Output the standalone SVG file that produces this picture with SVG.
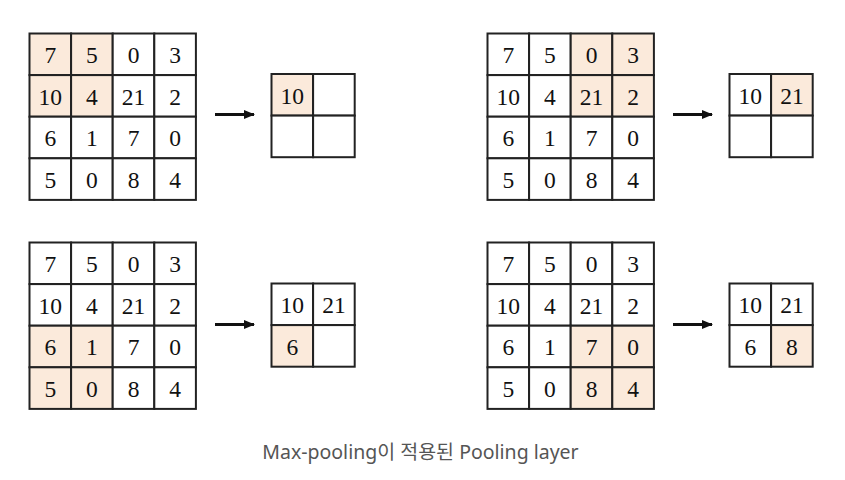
<svg xmlns="http://www.w3.org/2000/svg" width="845" height="480" viewBox="0 0 845 480">
<style>
.c{fill:#fff;stroke:#222;stroke-width:2}
.h{fill:#fbeadb;stroke:#222;stroke-width:2}
.n{font-family:"Liberation Serif",serif;font-size:23.5px;fill:#111;text-anchor:middle}
.cap{font-family:"Noto Sans","Noto Sans CJK KR",sans-serif;font-size:19.5px;fill:#555;text-anchor:middle}
.a{stroke:#111;stroke-width:3;fill:none}
</style>
<defs>
<marker id="ah" markerWidth="12" markerHeight="10" refX="10" refY="5" orient="auto" markerUnits="userSpaceOnUse"><path d="M0,0.5 L11,5 L0,9.5 Z" fill="#111"/></marker>
</defs>
<rect width="845" height="480" fill="#fff"/>

<!-- Top-left input -->
<g id="in1" transform="translate(29.5,33.5)">
<rect class="h" x="0" y="0" width="41.6" height="41.6"/><rect class="h" x="41.6" y="0" width="41.6" height="41.6"/><rect class="c" x="83.2" y="0" width="41.6" height="41.6"/><rect class="c" x="124.8" y="0" width="41.6" height="41.6"/>
<rect class="h" x="0" y="41.6" width="41.6" height="41.6"/><rect class="h" x="41.6" y="41.6" width="41.6" height="41.6"/><rect class="c" x="83.2" y="41.6" width="41.6" height="41.6"/><rect class="c" x="124.8" y="41.6" width="41.6" height="41.6"/>
<rect class="c" x="0" y="83.2" width="41.6" height="41.6"/><rect class="c" x="41.6" y="83.2" width="41.6" height="41.6"/><rect class="c" x="83.2" y="83.2" width="41.6" height="41.6"/><rect class="c" x="124.8" y="83.2" width="41.6" height="41.6"/>
<rect class="c" x="0" y="124.8" width="41.6" height="41.6"/><rect class="c" x="41.6" y="124.8" width="41.6" height="41.6"/><rect class="c" x="83.2" y="124.8" width="41.6" height="41.6"/><rect class="c" x="124.8" y="124.8" width="41.6" height="41.6"/>
<text class="n" x="20.8" y="29.5">7</text><text class="n" x="62.4" y="29.5">5</text><text class="n" x="104" y="29.5">0</text><text class="n" x="145.6" y="29.5">3</text>
<text class="n" x="20.8" y="71.1">10</text><text class="n" x="62.4" y="71.1">4</text><text class="n" x="104" y="71.1">21</text><text class="n" x="145.6" y="71.1">2</text>
<text class="n" x="20.8" y="112.7">6</text><text class="n" x="62.4" y="112.7">1</text><text class="n" x="104" y="112.7">7</text><text class="n" x="145.6" y="112.7">0</text>
<text class="n" x="20.8" y="154.3">5</text><text class="n" x="62.4" y="154.3">0</text><text class="n" x="104" y="154.3">8</text><text class="n" x="145.6" y="154.3">4</text>
</g>
<g id="out1" transform="translate(271.5,74)">
<rect class="h" x="0" y="0" width="41.6" height="41.6"/><rect class="c" x="41.6" y="0" width="41.6" height="41.6"/>
<rect class="c" x="0" y="41.6" width="41.6" height="41.6"/><rect class="c" x="41.6" y="41.6" width="41.6" height="41.6"/>
<text class="n" x="20.8" y="29.5">10</text>
</g>

<!-- Top-right input -->
<g id="in2" transform="translate(487.5,33.5)">
<rect class="c" x="0" y="0" width="41.6" height="41.6"/><rect class="c" x="41.6" y="0" width="41.6" height="41.6"/><rect class="h" x="83.2" y="0" width="41.6" height="41.6"/><rect class="h" x="124.8" y="0" width="41.6" height="41.6"/>
<rect class="c" x="0" y="41.6" width="41.6" height="41.6"/><rect class="c" x="41.6" y="41.6" width="41.6" height="41.6"/><rect class="h" x="83.2" y="41.6" width="41.6" height="41.6"/><rect class="h" x="124.8" y="41.6" width="41.6" height="41.6"/>
<rect class="c" x="0" y="83.2" width="41.6" height="41.6"/><rect class="c" x="41.6" y="83.2" width="41.6" height="41.6"/><rect class="c" x="83.2" y="83.2" width="41.6" height="41.6"/><rect class="c" x="124.8" y="83.2" width="41.6" height="41.6"/>
<rect class="c" x="0" y="124.8" width="41.6" height="41.6"/><rect class="c" x="41.6" y="124.8" width="41.6" height="41.6"/><rect class="c" x="83.2" y="124.8" width="41.6" height="41.6"/><rect class="c" x="124.8" y="124.8" width="41.6" height="41.6"/>
<text class="n" x="20.8" y="29.5">7</text><text class="n" x="62.4" y="29.5">5</text><text class="n" x="104" y="29.5">0</text><text class="n" x="145.6" y="29.5">3</text>
<text class="n" x="20.8" y="71.1">10</text><text class="n" x="62.4" y="71.1">4</text><text class="n" x="104" y="71.1">21</text><text class="n" x="145.6" y="71.1">2</text>
<text class="n" x="20.8" y="112.7">6</text><text class="n" x="62.4" y="112.7">1</text><text class="n" x="104" y="112.7">7</text><text class="n" x="145.6" y="112.7">0</text>
<text class="n" x="20.8" y="154.3">5</text><text class="n" x="62.4" y="154.3">0</text><text class="n" x="104" y="154.3">8</text><text class="n" x="145.6" y="154.3">4</text>
</g>
<g id="out2" transform="translate(729.5,74)">
<rect class="c" x="0" y="0" width="41.6" height="41.6"/><rect class="h" x="41.6" y="0" width="41.6" height="41.6"/>
<rect class="c" x="0" y="41.6" width="41.6" height="41.6"/><rect class="c" x="41.6" y="41.6" width="41.6" height="41.6"/>
<text class="n" x="20.8" y="29.5">10</text><text class="n" x="62.4" y="29.5">21</text>
</g>

<!-- Bottom-left input -->
<g id="in3" transform="translate(29.5,242.5)">
<rect class="c" x="0" y="0" width="41.6" height="41.6"/><rect class="c" x="41.6" y="0" width="41.6" height="41.6"/><rect class="c" x="83.2" y="0" width="41.6" height="41.6"/><rect class="c" x="124.8" y="0" width="41.6" height="41.6"/>
<rect class="c" x="0" y="41.6" width="41.6" height="41.6"/><rect class="c" x="41.6" y="41.6" width="41.6" height="41.6"/><rect class="c" x="83.2" y="41.6" width="41.6" height="41.6"/><rect class="c" x="124.8" y="41.6" width="41.6" height="41.6"/>
<rect class="h" x="0" y="83.2" width="41.6" height="41.6"/><rect class="h" x="41.6" y="83.2" width="41.6" height="41.6"/><rect class="c" x="83.2" y="83.2" width="41.6" height="41.6"/><rect class="c" x="124.8" y="83.2" width="41.6" height="41.6"/>
<rect class="h" x="0" y="124.8" width="41.6" height="41.6"/><rect class="h" x="41.6" y="124.8" width="41.6" height="41.6"/><rect class="c" x="83.2" y="124.8" width="41.6" height="41.6"/><rect class="c" x="124.8" y="124.8" width="41.6" height="41.6"/>
<text class="n" x="20.8" y="29.5">7</text><text class="n" x="62.4" y="29.5">5</text><text class="n" x="104" y="29.5">0</text><text class="n" x="145.6" y="29.5">3</text>
<text class="n" x="20.8" y="71.1">10</text><text class="n" x="62.4" y="71.1">4</text><text class="n" x="104" y="71.1">21</text><text class="n" x="145.6" y="71.1">2</text>
<text class="n" x="20.8" y="112.7">6</text><text class="n" x="62.4" y="112.7">1</text><text class="n" x="104" y="112.7">7</text><text class="n" x="145.6" y="112.7">0</text>
<text class="n" x="20.8" y="154.3">5</text><text class="n" x="62.4" y="154.3">0</text><text class="n" x="104" y="154.3">8</text><text class="n" x="145.6" y="154.3">4</text>
</g>
<g id="out3" transform="translate(271.5,283.5)">
<rect class="c" x="0" y="0" width="41.6" height="41.6"/><rect class="c" x="41.6" y="0" width="41.6" height="41.6"/>
<rect class="h" x="0" y="41.6" width="41.6" height="41.6"/><rect class="c" x="41.6" y="41.6" width="41.6" height="41.6"/>
<text class="n" x="20.8" y="29.5">10</text><text class="n" x="62.4" y="29.5">21</text>
<text class="n" x="20.8" y="71.1">6</text>
</g>

<!-- Bottom-right input -->
<g id="in4" transform="translate(487.5,242.5)">
<rect class="c" x="0" y="0" width="41.6" height="41.6"/><rect class="c" x="41.6" y="0" width="41.6" height="41.6"/><rect class="c" x="83.2" y="0" width="41.6" height="41.6"/><rect class="c" x="124.8" y="0" width="41.6" height="41.6"/>
<rect class="c" x="0" y="41.6" width="41.6" height="41.6"/><rect class="c" x="41.6" y="41.6" width="41.6" height="41.6"/><rect class="c" x="83.2" y="41.6" width="41.6" height="41.6"/><rect class="c" x="124.8" y="41.6" width="41.6" height="41.6"/>
<rect class="c" x="0" y="83.2" width="41.6" height="41.6"/><rect class="c" x="41.6" y="83.2" width="41.6" height="41.6"/><rect class="h" x="83.2" y="83.2" width="41.6" height="41.6"/><rect class="h" x="124.8" y="83.2" width="41.6" height="41.6"/>
<rect class="c" x="0" y="124.8" width="41.6" height="41.6"/><rect class="c" x="41.6" y="124.8" width="41.6" height="41.6"/><rect class="h" x="83.2" y="124.8" width="41.6" height="41.6"/><rect class="h" x="124.8" y="124.8" width="41.6" height="41.6"/>
<text class="n" x="20.8" y="29.5">7</text><text class="n" x="62.4" y="29.5">5</text><text class="n" x="104" y="29.5">0</text><text class="n" x="145.6" y="29.5">3</text>
<text class="n" x="20.8" y="71.1">10</text><text class="n" x="62.4" y="71.1">4</text><text class="n" x="104" y="71.1">21</text><text class="n" x="145.6" y="71.1">2</text>
<text class="n" x="20.8" y="112.7">6</text><text class="n" x="62.4" y="112.7">1</text><text class="n" x="104" y="112.7">7</text><text class="n" x="145.6" y="112.7">0</text>
<text class="n" x="20.8" y="154.3">5</text><text class="n" x="62.4" y="154.3">0</text><text class="n" x="104" y="154.3">8</text><text class="n" x="145.6" y="154.3">4</text>
</g>
<g id="out4" transform="translate(729.5,283.5)">
<rect class="c" x="0" y="0" width="41.6" height="41.6"/><rect class="c" x="41.6" y="0" width="41.6" height="41.6"/>
<rect class="c" x="0" y="41.6" width="41.6" height="41.6"/><rect class="h" x="41.6" y="41.6" width="41.6" height="41.6"/>
<text class="n" x="20.8" y="29.5">10</text><text class="n" x="62.4" y="29.5">21</text>
<text class="n" x="20.8" y="71.1">6</text><text class="n" x="62.4" y="71.1">8</text>
</g>

<g id="connectors">
<line class="a" x1="215" y1="114.5" x2="254" y2="114.5" marker-end="url(#ah)"/>
<line class="a" x1="673" y1="114.5" x2="712" y2="114.5" marker-end="url(#ah)"/>
<line class="a" x1="215" y1="324.5" x2="254" y2="324.5" marker-end="url(#ah)"/>
<line class="a" x1="673" y1="324.5" x2="712" y2="324.5" marker-end="url(#ah)"/>
</g>

<text class="cap" x="420.5" y="459">Max-pooling이 적용된 Pooling layer</text>
</svg>
